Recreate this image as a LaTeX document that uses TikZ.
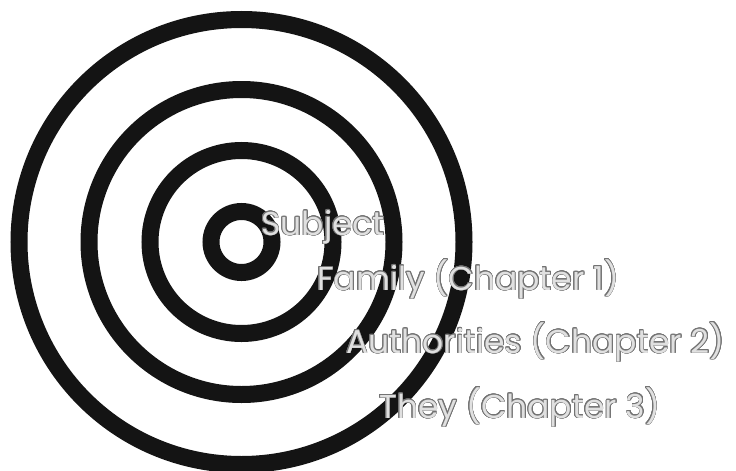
\documentclass[tikz,border=0pt]{standalone}
\usepackage{fontspec}
\setmainfont{Poppins}
\usepackage{contour}
\contourlength{0.7pt}
\contournumber{16}
\begin{document}
\begin{tikzpicture}[x=1pt,y=-1pt,
  ring/.style={draw=black!92,line width=17pt},
  lbl/.style={anchor=base west,inner sep=0pt,font=\fontsize{33}{36}\selectfont,text=black!12}]
\useasboundingbox (0,0) rectangle (736,471);
\fill[white] (0,0) rectangle (736,471);
\coordinate (c) at (241.5,242);
\draw[ring] (c) circle[radius=222.5];
\draw[ring] (c) circle[radius=152.5];
\draw[ring] (c) circle[radius=91.5];
\draw[ring] (c) circle[radius=30.5];
\node[lbl] (subj) at (261,235) {\contour{black!55}{Subject}};
\node[lbl] (fam) at (317,290) {\contour{black!55}{Family (Chapter 1)}};
\node[lbl] (auth) at (346,353) {\contour{black!55}{Authorities (Chapter 2)}};
\node[lbl] (they) at (379,418) {\contour{black!55}{They (Chapter 3)}};
\end{tikzpicture}
\end{document}
